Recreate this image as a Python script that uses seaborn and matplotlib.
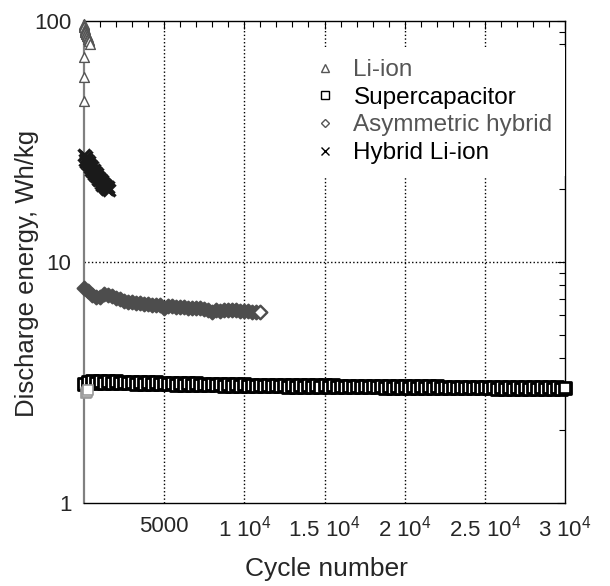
import numpy as np
import pandas as pd
import seaborn as sns
import matplotlib.pyplot as plt
from matplotlib.lines import Line2D
from matplotlib.ticker import MultipleLocator, LogLocator, NullFormatter

# ======================================================
# Data
# ======================================================

li_cycles = [1, 3, 6, 10, 15, 22, 30, 40, 55, 70, 90, 110, 135, 160, 190, 220, 250, 290, 330, 380]
li_energy = [46.5, 58.5, 71, 96, 97, 95.5, 94, 93, 92, 91, 90, 89, 88.5, 87.5, 86.5, 85.5, 84.5, 83.5, 82.5, 80]

sc_first_cycles = [150, 200, 250]
sc_first_energy = [2.85, 2.9, 2.95]

sc_cycles = [0, 250, 500, 750, 1000, 1250, 1500, 1750, 2000, 2250,
             2500, 2750, 3000, 3250, 3500, 3750, 4000, 4250, 4500, 4750,
             5000, 5250, 5500, 5750, 6000, 6250, 6500, 6750, 7000, 7250,
             7500, 7750, 8000, 8250, 8500, 8750, 9000, 9250, 9500, 9750,
             10000, 10250, 10500, 10750, 11000, 11250, 11500, 11750, 12000, 12250,
             12500, 12750, 13000, 13250, 13500, 13750, 14000, 14250, 14500, 14750,
             15000, 15250, 15500, 15750, 16000, 16250, 16500, 16750, 17000, 17250,
             17500, 17750, 18000, 18250, 18500, 18750, 19000, 19250, 19500, 19750,
             20000, 20250, 20500, 20750, 21000, 21250, 21500, 21750, 22000, 22250,
             22500, 22750, 23000, 23250, 23500, 23750, 24000, 24250, 24500, 24750,
             25000, 25250, 25500, 25750, 26000, 26250, 26500, 26750, 27000, 27250,
             27500, 27750, 28000, 28250, 28500, 28750, 29000, 29250, 29500, 29750,
             30000]
sc_energy = [3.12, 3.17, 3.21, 3.16, 3.21, 3.16, 3.20, 3.15, 3.20, 3.15,
             3.19, 3.14, 3.19, 3.13, 3.18, 3.13, 3.17, 3.12, 3.17, 3.12,
             3.16, 3.11, 3.15, 3.10, 3.15, 3.10, 3.14, 3.09, 3.14, 3.09,
             3.13, 3.08, 3.13, 3.08, 3.12, 3.07, 3.12, 3.07, 3.11, 3.06,
             3.11, 3.06, 3.10, 3.06, 3.10, 3.05, 3.10, 3.05, 3.09, 3.05,
             3.09, 3.04, 3.09, 3.04, 3.09, 3.04, 3.08, 3.04, 3.08, 3.03,
             3.08, 3.03, 3.08, 3.03, 3.07, 3.03, 3.07, 3.02, 3.07, 3.02,
             3.07, 3.02, 3.06, 3.02, 3.06, 3.01, 3.06, 3.01, 3.06, 3.01,
             3.06, 3.01, 3.05, 3.01, 3.05, 3.00, 3.05, 3.00, 3.05, 3.00,
             3.04, 3.00, 3.04, 2.99, 3.04, 2.99, 3.04, 2.99, 3.03, 2.99,
             3.03, 2.99, 3.03, 2.98, 3.03, 2.98, 3.03, 2.98, 3.02, 2.98,
             3.02, 2.98, 3.02, 2.98, 3.02, 2.97, 3.02, 2.97, 3.02, 2.98,
             3.00]

ah_cycles = [0, 250, 500, 750, 1000, 1250, 1500, 1750, 2000, 2250,
             2500, 2750, 3000, 3250, 3500, 3750, 4000, 4250, 4500, 4750,
             5000, 5250, 5500, 5750, 6000, 6250, 6500, 6750, 7000, 7250,
             7500, 7750, 8000, 8250, 8500, 8750, 9000, 9250, 9500, 9750,
             10000, 10250, 10500, 10750, 11000]
ah_energy = [7.8, 7.55, 7.3, 7.15, 7.15, 7.4, 7.3, 7.2, 7.1, 7.0,
             6.9, 6.85, 6.8, 6.78, 6.75, 6.72, 6.68, 6.65, 6.62, 6.6,
             6.45, 6.55, 6.55, 6.52, 6.5, 6.48, 6.47, 6.45, 6.43, 6.42,
             6.4, 6.35, 6.2, 6.35, 6.28, 6.33, 6.32, 6.3, 6.3, 6.28,
             6.27, 6.25, 6.23, 6.2, 6.18]

hy_cycles = [0, 50, 100, 150, 200, 250, 300, 350, 400, 450,
             500, 550, 600, 650, 700, 750, 800, 850, 900, 950,
             1000, 1050, 1100, 1150, 1200, 1250, 1300, 1350, 1400, 1450,
             1500, 1550]
hy_energy = [27.8, 26.6, 27.2, 26.0, 26.6, 25.4, 25.9, 24.8, 25.3, 24.2,
             24.7, 23.7, 24.1, 23.2, 23.6, 22.7, 23.1, 22.2, 22.6, 21.8,
             22.1, 21.3, 21.7, 20.9, 21.2, 20.6, 20.9, 20.3, 20.6, 20.1,
             20.4, 19.9]

xtick_values = [0, 5000, 10000, 15000, 20000, 25000, 30000]
xtick_labels = ["", "5000", "1 10$^4$", "1.5 10$^4$", "2 10$^4$", "2.5 10$^4$", "3 10$^4$"]

# ======================================================
# Style
# ======================================================

sns.set_theme(style="white")
plt.rcParams["font.family"] = ["Liberation Sans", "DejaVu Sans"]
plt.rcParams["mathtext.default"] = "regular"
plt.rcParams["font.size"] = 16

fig = plt.figure(figsize=(6.1, 5.86), dpi=100)
ax = fig.add_axes([84 / 610, 83 / 586, 481 / 610, 482 / 586])

# ======================================================
# Plot
# ======================================================

sns.scatterplot(x=sc_cycles, y=sc_energy, marker="s", s=70,
                facecolor="white", edgecolor="black", linewidth=2.0,
                clip_on=False, zorder=3, ax=ax)
# last supercapacitor point stays an open square on top
sns.scatterplot(x=sc_cycles[-1:], y=sc_energy[-1:], marker="s", s=55,
                facecolor="white", edgecolor="black", linewidth=1.2,
                clip_on=False, zorder=3.5, ax=ax)
sns.scatterplot(x=sc_first_cycles, y=sc_first_energy, marker="s", s=45,
                facecolor="white", edgecolor="#999999", linewidth=1.2,
                clip_on=False, zorder=3, ax=ax)

# asymmetric hybrid: dense band, last marker shown open
sns.scatterplot(x=ah_cycles, y=ah_energy, marker="D", s=50,
                facecolor="#4d4d4d", edgecolor="#4d4d4d", linewidth=1.5,
                clip_on=False, zorder=3, ax=ax)
sns.scatterplot(x=ah_cycles[-1:], y=ah_energy[-1:], marker="D", s=40,
                facecolor="white", edgecolor="#4d4d4d", linewidth=1.2,
                clip_on=False, zorder=3.5, ax=ax)

sns.scatterplot(x=hy_cycles, y=hy_energy, marker="x", s=75,
                color="#1a1a1a", linewidth=2.4,
                clip_on=False, zorder=3, ax=ax)
sns.scatterplot(x=li_cycles, y=li_energy, marker="^", s=50,
                facecolor="white", edgecolor="#555555", linewidth=1.0,
                clip_on=False, zorder=4, ax=ax)

ax.set_yscale("log")
ax.set_xlim(0, 30000)
ax.set_ylim(1, 100)

ax.set_xticks(xtick_values, xtick_labels)
ax.xaxis.set_minor_locator(MultipleLocator(1000))
ax.set_yticks([1, 10, 100], ["1", "10", "100"])
ax.yaxis.set_minor_locator(LogLocator(base=10, subs=np.arange(2, 10)))
ax.yaxis.set_minor_formatter(NullFormatter())

ax.tick_params(which="both", direction="in", top=True, right=True,
               labelsize=16, color="black")
ax.tick_params(which="major", length=6, width=0.8)
ax.tick_params(which="minor", length=4, width=0.8)
ax.tick_params(axis="x", pad=9)
ax.tick_params(axis="y", pad=9)

for side in ["top", "right", "bottom"]:
    ax.spines[side].set_color("black")
    ax.spines[side].set_linewidth(1.0)
ax.spines["left"].set_color("#808080")
ax.spines["left"].set_linewidth(1.6)

ax.grid(False)
for xv in xtick_values[1:-1]:
    ax.axvline(xv, color="black", linestyle=":", linewidth=1.0, zorder=1)
ax.axhline(10, color="black", linestyle=":", linewidth=1.0, zorder=1)

ax.set_xlabel("Cycle number", fontsize=19)
ax.xaxis.set_label_coords(0.505, -0.112)
ax.set_ylabel("Discharge energy, Wh/kg", fontsize=18.5)
ax.yaxis.set_label_coords(-0.094, 0.477)

handles = [
    Line2D([], [], linestyle="none", marker="^", markersize=6,
           markerfacecolor="white", markeredgecolor="#555555"),
    Line2D([], [], linestyle="none", marker="s", markersize=5.5,
           markerfacecolor="white", markeredgecolor="black"),
    Line2D([], [], linestyle="none", marker="D", markersize=4.5,
           markerfacecolor="white", markeredgecolor="#555555"),
    Line2D([], [], linestyle="none", marker="x", markersize=6,
           markeredgecolor="black"),
]
labels = ["Li-ion", "Supercapacitor", "Asymmetric hybrid", "Hybrid Li-ion"]
leg = ax.legend(handles, labels, loc="upper left", bbox_to_anchor=(0.451, 0.946),
                frameon=True, fancybox=False, framealpha=1.0, facecolor="white",
                edgecolor="none", fontsize=17.5, handlelength=1.0, handletextpad=0.66,
                labelspacing=0.23, borderpad=0.5, borderaxespad=0)
leg.set_zorder(5)
for txt, col in zip(leg.get_texts(), ["#555555", "black", "#555555", "black"]):
    txt.set_color(col)

plt.savefig("out.png", dpi=100)
